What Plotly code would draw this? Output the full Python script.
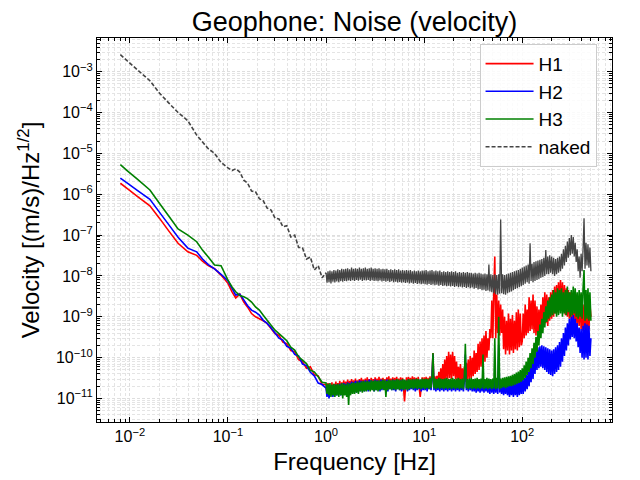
import plotly.graph_objects as go

# ---------------- data ----------------
freq_low = [0.008, 0.0095, 0.012, 0.016, 0.02, 0.025, 0.031, 0.039, 0.048, 0.055, 0.063, 0.073, 0.085]
freq_mid = [0.100, 0.110, 0.120, 0.132, 0.145, 0.158, 0.174, 0.191, 0.209, 0.229,
            0.251, 0.275, 0.302, 0.331, 0.363, 0.398, 0.437, 0.479, 0.525, 0.575,
            0.631, 0.692, 0.759, 0.832, 0.912]
freq_d0 = [1.000, 1.023, 1.047, 1.072, 1.096, 1.122, 1.148, 1.175, 1.202, 1.230,
           1.259, 1.288, 1.318, 1.349, 1.380, 1.413, 1.445, 1.479, 1.514, 1.549,
           1.585, 1.622, 1.660, 1.698, 1.738, 1.778, 1.820, 1.862, 1.905, 1.950,
           1.995, 2.042, 2.089, 2.138, 2.188, 2.239, 2.291, 2.344, 2.399, 2.455,
           2.512, 2.570, 2.630, 2.692, 2.754, 2.818, 2.884, 2.951, 3.020, 3.090,
           3.162, 3.236, 3.311, 3.388, 3.467, 3.548, 3.631, 3.715, 3.802, 3.890,
           3.981, 4.074, 4.169, 4.266, 4.365, 4.467, 4.571, 4.677, 4.786, 4.898,
           5.012, 5.129, 5.248, 5.370, 5.495, 5.623, 5.754, 5.888, 6.026, 6.166,
           6.310, 6.457, 6.607, 6.761, 6.918, 7.079, 7.244, 7.413, 7.586, 7.762,
           7.943, 8.128, 8.318, 8.511, 8.710, 8.913, 9.120, 9.333, 9.550, 9.772]
freq_d1 = [10.00, 10.23, 10.47, 10.72, 10.96, 11.22, 11.48, 11.75, 12.02, 12.30,
           12.59, 12.88, 13.18, 13.49, 13.80, 14.13, 14.45, 14.79, 15.14, 15.49,
           15.85, 16.22, 16.60, 16.98, 17.38, 17.78, 18.20, 18.62, 19.05, 19.50,
           19.95, 20.42, 20.89, 21.38, 21.88, 22.39, 22.91, 23.44, 23.99, 24.55,
           25.12, 25.70, 26.30, 26.92, 27.54, 28.18, 28.84, 29.51, 30.20, 30.90,
           31.62, 32.36, 33.11, 33.88, 34.67, 35.48, 36.31, 37.15, 38.02, 38.90,
           39.81, 40.74, 41.69, 42.66, 43.65, 44.67, 45.71, 46.77, 47.86, 48.98,
           50.12, 51.29, 52.48, 53.70, 54.95, 56.23, 57.54, 58.88, 60.26, 61.66,
           63.10, 64.57, 66.07, 67.61, 69.18, 70.79, 72.44, 74.13, 75.86, 77.62,
           79.43, 81.28, 83.18, 85.11, 87.10, 89.13, 91.20, 93.33, 95.50, 97.72]
freq_d2 = [100.0, 102.3, 104.7, 107.2, 109.6, 112.2, 114.8, 117.5, 120.2, 123.0,
           125.9, 128.8, 131.8, 134.9, 138.0, 141.3, 144.5, 147.9, 151.4, 154.9,
           158.5, 162.2, 166.0, 169.8, 173.8, 177.8, 182.0, 186.2, 190.5, 195.0,
           199.5, 204.2, 208.9, 213.8, 218.8, 223.9, 229.1, 234.4, 239.9, 245.5,
           251.2, 257.0, 263.0, 269.2, 275.4, 281.8, 288.4, 295.1, 302.0, 309.0,
           316.2, 323.6, 331.1, 338.8, 346.7, 354.8, 363.1, 371.5, 380.2, 389.0,
           398.1, 407.4, 416.9, 426.6, 436.5, 446.7, 457.1, 467.7, 478.6, 489.8,
           501.2]

# H1
h1_low = [1.86e-6, 1.36e-6, 8.8e-7, 5.2e-7, 2.6e-7, 1.25e-7, 6.3e-8, 3.9e-8, 3.2e-8, 2.3e-8, 1.8e-8, 1.5e-8, 1.05e-8]
h1_mid = [6.6e-9, 4.1e-9, 2.9e-9, 3.6e-9, 2.3e-9, 1.75e-9, 1.2e-9, 1.0e-9, 9.0e-10, 8.0e-10,
          6.9e-10, 5.2e-10, 3.9e-10, 3.5e-10, 2.4e-10, 2.2e-10, 1.5e-10, 1.4e-10, 9.0e-11, 8.0e-11,
          5.5e-11, 6.0e-11, 3.8e-11, 3.6e-11, 2.2e-11]
h1_d0 = [2.2e-11, 1.3e-11, 2.4e-11, 1.2e-11, 2.1e-11, 1.4e-11, 2.5e-11, 1.3e-11, 2.3e-11, 1.5e-11,
         2.6e-11, 1.4e-11, 2.4e-11, 1.5e-11, 2.7e-11, 1.3e-11, 2.5e-11, 1.6e-11, 2.8e-11, 1.5e-11,
         2.6e-11, 1.6e-11, 2.9e-11, 1.5e-11, 2.7e-11, 1.7e-11, 3.0e-11, 1.6e-11, 2.8e-11, 1.7e-11,
         3.1e-11, 1.6e-11, 2.8e-11, 1.8e-11, 3.0e-11, 1.7e-11, 3.2e-11, 1.8e-11, 2.9e-11, 1.7e-11,
         3.1e-11, 1.8e-11, 3.3e-11, 1.7e-11, 3.0e-11, 1.9e-11, 3.2e-11, 1.8e-11, 3.0e-11, 1.7e-11,
         3.3e-11, 1.9e-11, 3.1e-11, 1.8e-11, 3.4e-11, 1.7e-11, 3.1e-11, 1.9e-11, 3.2e-11, 1.8e-11,
         3.0e-11, 1.8e-11, 3.3e-11, 1.9e-11, 3.5e-11, 1.8e-11, 3.1e-11, 1.9e-11, 3.3e-11, 1.8e-11,
         3.2e-11, 1.9e-11, 3.4e-11, 1.8e-11, 3.1e-11, 1.9e-11, 3.3e-11, 1.7e-11, 3.2e-11, 1.8e-11,
         8.5e-12, 1.9e-11, 3.3e-11, 1.8e-11, 3.4e-11, 1.9e-11, 3.2e-11, 1.8e-11, 3.5e-11, 1.9e-11,
         3.3e-11, 1.8e-11, 3.2e-11, 1.9e-11, 3.4e-11, 1.8e-11, 1.1e-11, 1.9e-11, 3.3e-11, 1.8e-11]
h1_d1 = [3.3e-11, 1.9e-11, 3.4e-11, 1.8e-11, 3.2e-11, 1.9e-11, 3.5e-11, 1.8e-11, 3.4e-11, 1.3e-10,
         2.0e-11, 3.5e-11, 1.9e-11, 3.6e-11, 2.0e-11, 4.5e-11, 2.1e-11, 5.5e-11, 2.2e-11, 7.0e-11,
         2.4e-11, 9.0e-11, 2.6e-11, 1.1e-10, 3.0e-11, 1.4e-10, 3.2e-11, 1.2e-10, 3.0e-11, 1.4e-10,
         3.5e-11, 1.1e-10, 3.0e-11, 8.0e-11, 2.8e-11, 6.0e-11, 2.5e-11, 7.0e-11, 2.6e-11, 5.5e-11,
         2.4e-11, 6.0e-11, 2.6e-11, 7.5e-11, 2.8e-11, 9.0e-11, 3.0e-11, 1.1e-10, 3.2e-11, 1.0e-10,
         3.5e-11, 1.5e-10, 4.0e-11, 1.3e-10, 4.5e-11, 2.2e-10, 5.0e-11, 2.5e-10, 6.0e-11, 3.0e-10,
         7.0e-11, 3.5e-10, 8.0e-11, 4.5e-10, 1.0e-10, 3.0e-10, 1.5e-10, 5.0e-10, 3.0e-10, 2.5e-9,
         3.0e-10, 4.0e-9, 3.0e-8, 3.0e-10, 3.5e-9, 4.0e-10, 2.5e-9, 3.5e-10, 2.0e-9, 4.0e-10,
         1.5e-9, 1.6e-10, 1.0e-9, 1.2e-10, 8.0e-10, 1.5e-10, 1.2e-9, 1.2e-10, 9.0e-10, 1.5e-10,
         1.1e-9, 1.3e-10, 8.0e-10, 1.6e-10, 1.3e-9, 1.5e-10, 1.5e-9, 1.8e-10, 1.2e-9, 2.0e-10]
h1_d2 = [2.5e-10, 1.2e-9, 3.0e-10, 2.0e-9, 3.5e-10, 1.5e-9, 4.0e-10, 3.0e-9, 4.5e-10, 2.5e-9,
         5.0e-10, 3.5e-9, 4.0e-10, 2.5e-9, 3.5e-10, 1.8e-9, 3.0e-10, 1.5e-9, 4.0e-10, 2.0e-9,
         5.0e-10, 3.0e-9, 6.0e-10, 4.0e-9, 7.0e-10, 3.5e-9, 6.0e-10, 3.0e-9, 8.0e-10, 4.0e-9,
         9.0e-10, 4.5e-9, 1.0e-9, 5.5e-9, 1.2e-9, 6.0e-9, 1.3e-9, 7.0e-9, 1.5e-9, 8.0e-9,
         1.4e-9, 7.0e-9, 1.3e-9, 6.0e-9, 1.1e-9, 5.0e-9, 1.0e-9, 4.5e-9, 9.0e-10, 4.0e-9,
         8.0e-10, 3.5e-9, 7.0e-10, 3.0e-9, 6.0e-10, 3.5e-9, 5.5e-10, 3.0e-9, 6.0e-10, 3.5e-9,
         5.0e-10, 2.5e-9, 4.5e-10, 2.0e-9, 5.0e-10, 3.0e-9, 4.5e-10, 2.5e-9, 5.0e-10, 2.0e-9,
         1.0e-9]

# H2
h2_low = [2.47e-6, 1.84e-6, 1.22e-6, 7.5e-7, 3.65e-7, 1.78e-7, 8.9e-8, 4.8e-8, 3.9e-8, 2.6e-8, 1.9e-8, 1.5e-8, 1.1e-8]
h2_mid = [7.6e-9, 5.0e-9, 3.4e-9, 3.6e-9, 2.6e-9, 1.9e-9, 1.46e-9, 1.3e-9, 1.1e-9, 8.2e-10,
          6.9e-10, 5.4e-10, 4.0e-10, 3.0e-10, 2.7e-10, 1.9e-10, 1.7e-10, 1.2e-10, 1.1e-10, 7.0e-11,
          6.4e-11, 4.4e-11, 3.6e-11, 2.4e-11, 2.2e-11]
h2_d0 = [1.8e-11, 1.1e-11, 2.0e-11, 1.0e-11, 1.9e-11, 1.2e-11, 2.1e-11, 1.1e-11, 2.0e-11, 1.2e-11,
         2.2e-11, 1.2e-11, 2.1e-11, 1.3e-11, 2.3e-11, 1.2e-11, 2.2e-11, 1.3e-11, 2.4e-11, 1.3e-11,
         2.3e-11, 1.4e-11, 2.5e-11, 1.3e-11, 2.4e-11, 1.5e-11, 2.6e-11, 1.4e-11, 2.5e-11, 1.5e-11,
         2.7e-11, 1.4e-11, 2.6e-11, 1.6e-11, 2.8e-11, 1.5e-11, 2.7e-11, 1.6e-11, 2.6e-11, 1.5e-11,
         2.8e-11, 1.6e-11, 2.7e-11, 1.5e-11, 2.9e-11, 1.6e-11, 2.8e-11, 1.7e-11, 2.7e-11, 1.5e-11,
         2.9e-11, 1.6e-11, 2.8e-11, 1.7e-11, 2.7e-11, 1.5e-11, 2.9e-11, 1.6e-11, 2.8e-11, 1.7e-11,
         2.7e-11, 1.6e-11, 2.9e-11, 1.5e-11, 2.8e-11, 1.7e-11, 2.7e-11, 1.6e-11, 2.9e-11, 1.6e-11,
         2.8e-11, 1.5e-11, 2.9e-11, 1.7e-11, 2.7e-11, 1.6e-11, 2.8e-11, 1.5e-11, 2.9e-11, 1.6e-11,
         2.8e-11, 1.7e-11, 2.7e-11, 1.5e-11, 2.9e-11, 1.6e-11, 2.8e-11, 1.7e-11, 2.7e-11, 1.6e-11,
         2.9e-11, 1.5e-11, 2.8e-11, 1.6e-11, 2.7e-11, 1.7e-11, 2.9e-11, 1.5e-11, 2.8e-11, 1.6e-11]
h2_d1 = [2.8e-11, 1.6e-11, 2.9e-11, 1.5e-11, 2.7e-11, 1.7e-11, 2.8e-11, 1.6e-11, 2.9e-11, 1.2e-10,
         1.6e-11, 2.8e-11, 1.5e-11, 2.9e-11, 1.6e-11, 2.7e-11, 1.5e-11, 2.8e-11, 1.6e-11, 2.9e-11,
         1.5e-11, 2.8e-11, 1.6e-11, 2.7e-11, 1.5e-11, 2.9e-11, 1.6e-11, 2.8e-11, 1.5e-11, 2.7e-11,
         1.6e-11, 2.9e-11, 1.5e-11, 2.8e-11, 1.6e-11, 2.7e-11, 1.5e-11, 2.9e-11, 1.6e-11, 2.8e-11,
         1.5e-11, 2.7e-11, 1.2e-10, 1.6e-11, 2.8e-11, 1.5e-11, 2.9e-11, 1.6e-11, 2.7e-11, 1.5e-11,
         2.8e-11, 1.5e-11, 2.9e-11, 1.4e-11, 2.7e-11, 1.5e-11, 2.8e-11, 1.4e-11, 2.9e-11, 1.5e-11,
         2.7e-11, 1.4e-11, 2.8e-11, 1.5e-11, 2.7e-11, 1.4e-11, 2.9e-11, 1.3e-11, 2.8e-11, 1.4e-11,
         2.7e-11, 1.3e-11, 2.8e-11, 1.4e-11, 2.7e-11, 1.3e-11, 2.0e-10, 1.4e-11, 2.6e-11, 1.3e-11,
         2.7e-11, 1.2e-11, 2.6e-11, 1.3e-11, 2.7e-11, 1.2e-11, 2.6e-11, 1.1e-11, 2.7e-11, 1.2e-11,
         2.6e-11, 1.1e-11, 2.7e-11, 1.2e-11, 2.6e-11, 1.1e-11, 2.8e-11, 1.2e-11, 2.9e-11, 1.3e-11]
h2_d2 = [3.0e-11, 1.3e-11, 3.2e-11, 1.5e-11, 3.8e-11, 1.7e-11, 4.5e-11, 2.0e-11, 6.0e-11, 2.5e-11,
         8.0e-11, 3.0e-11, 1.1e-10, 4.0e-11, 1.5e-10, 5.0e-11, 1.8e-10, 5.5e-11, 1.9e-10, 6.0e-11,
         2.0e-10, 5.5e-11, 1.9e-10, 5.0e-11, 1.8e-10, 4.5e-11, 1.7e-10, 4.0e-11, 1.6e-10, 3.8e-11,
         1.5e-10, 3.5e-11, 1.6e-10, 4.0e-11, 1.8e-10, 4.5e-11, 2.0e-10, 5.0e-11, 2.4e-10, 6.0e-11,
         3.0e-10, 8.0e-11, 4.0e-10, 1.1e-10, 5.5e-10, 1.5e-10, 7.0e-10, 2.0e-10, 9.0e-10, 2.8e-10,
         1.0e-9, 3.2e-10, 1.1e-9, 3.0e-10, 9.0e-10, 2.5e-10, 7.0e-10, 1.8e-10, 5.5e-10, 1.3e-10,
         5.0e-10, 1.0e-10, 6.0e-10, 9.0e-11, 7.0e-10, 1.0e-10, 6.5e-10, 9.0e-11, 6.0e-10, 1.1e-10,
         3.0e-10]

# H3
h3_low = [5.3e-6, 3.7e-6, 2.3e-6, 1.27e-6, 6.0e-7, 2.9e-7, 1.41e-7, 1.0e-7, 6.9e-8, 4.3e-8, 2.9e-8, 1.86e-8, 1.78e-8]
h3_mid = [7.9e-9, 5.4e-9, 4.1e-9, 3.3e-9, 3.1e-9, 2.8e-9, 2.3e-9, 1.75e-9, 1.46e-9, 1.1e-9,
          8.2e-10, 6.2e-10, 4.7e-10, 3.9e-10, 3.2e-10, 2.6e-10, 1.8e-10, 1.53e-10, 1.05e-10, 8.7e-11,
          7.2e-11, 4.9e-11, 4.5e-11, 3.4e-11, 2.5e-11]
h3_d0 = [2.4e-11, 1.3e-11, 2.3e-11, 1.2e-11, 2.4e-11, 1.1e-11, 2.2e-11, 1.2e-11, 2.3e-11, 1.1e-11,
         2.2e-11, 1.2e-11, 2.3e-11, 1.1e-11, 2.2e-11, 1.2e-11, 2.4e-11, 1.0e-11, 2.3e-11, 1.2e-11,
         2.2e-11, 1.1e-11, 2.4e-11, 7.0e-12, 2.3e-11, 1.2e-11, 2.4e-11, 1.3e-11, 2.5e-11, 1.3e-11,
         2.4e-11, 1.4e-11, 2.6e-11, 1.3e-11, 2.5e-11, 1.5e-11, 2.6e-11, 1.4e-11, 2.7e-11, 1.5e-11,
         2.6e-11, 1.5e-11, 2.7e-11, 1.6e-11, 2.6e-11, 1.5e-11, 2.8e-11, 1.6e-11, 2.7e-11, 1.5e-11,
         2.8e-11, 1.6e-11, 2.7e-11, 1.5e-11, 2.8e-11, 1.6e-11, 2.7e-11, 1.7e-11, 2.9e-11, 1.6e-11,
         2.8e-11, 1.1e-11, 2.7e-11, 1.6e-11, 2.9e-11, 1.7e-11, 2.8e-11, 1.6e-11, 2.9e-11, 1.7e-11,
         2.8e-11, 1.6e-11, 3.0e-11, 1.7e-11, 2.9e-11, 1.6e-11, 2.8e-11, 1.7e-11, 3.0e-11, 1.6e-11,
         2.9e-11, 1.7e-11, 2.8e-11, 1.6e-11, 3.0e-11, 1.7e-11, 2.9e-11, 1.8e-11, 3.0e-11, 1.7e-11,
         2.9e-11, 1.8e-11, 3.1e-11, 1.7e-11, 3.0e-11, 1.8e-11, 2.9e-11, 1.7e-11, 3.1e-11, 1.8e-11]
h3_d1 = [3.0e-11, 1.7e-11, 3.1e-11, 1.8e-11, 3.0e-11, 1.7e-11, 3.2e-11, 1.8e-11, 3.0e-11, 1.3e-10,
         1.8e-11, 3.1e-11, 1.7e-11, 3.0e-11, 1.8e-11, 3.2e-11, 1.7e-11, 3.1e-11, 1.8e-11, 3.0e-11,
         1.7e-11, 3.1e-11, 1.8e-11, 3.2e-11, 1.7e-11, 3.0e-11, 1.8e-11, 3.1e-11, 1.7e-11, 3.2e-11,
         1.8e-11, 3.0e-11, 1.7e-11, 3.1e-11, 1.8e-11, 3.2e-11, 1.7e-11, 3.0e-11, 1.8e-11, 3.1e-11,
         1.7e-11, 3.2e-11, 2.2e-10, 1.8e-11, 3.0e-11, 1.7e-11, 3.1e-11, 1.8e-11, 3.2e-11, 1.7e-11,
         3.0e-11, 1.8e-11, 3.1e-11, 1.7e-11, 3.2e-11, 1.8e-11, 3.0e-11, 1.7e-11, 3.1e-11, 1.8e-11,
         1.2e-10, 1.7e-11, 3.0e-11, 1.8e-11, 3.2e-11, 1.7e-11, 3.1e-11, 1.8e-11, 3.0e-11, 1.7e-11,
         3.1e-11, 1.8e-11, 3.0e-10, 1.7e-11, 3.2e-11, 1.8e-11, 1.0e-9, 1.7e-11, 3.1e-11, 1.8e-11,
         3.2e-11, 1.9e-11, 3.3e-11, 1.8e-11, 3.4e-11, 1.9e-11, 3.5e-11, 2.0e-11, 3.6e-11, 2.0e-11,
         3.8e-11, 2.1e-11, 4.0e-11, 2.2e-11, 4.3e-11, 2.3e-11, 4.6e-11, 2.4e-11, 5.0e-11, 2.6e-11]
h3_d2 = [5.5e-11, 2.8e-11, 6.5e-11, 3.2e-11, 8.0e-11, 3.8e-11, 1.0e-10, 4.5e-11, 1.3e-10, 5.5e-11,
         1.7e-10, 7.0e-11, 2.3e-10, 1.0e-10, 3.2e-10, 1.4e-10, 4.5e-10, 2.0e-10, 6.5e-10, 3.0e-10,
         9.0e-10, 4.0e-10, 1.3e-9, 5.5e-10, 1.8e-9, 7.5e-10, 2.5e-9, 9.0e-10, 3.0e-9, 1.0e-9,
         3.5e-9, 1.1e-9, 4.5e-9, 1.2e-9, 4.0e-9, 1.0e-9, 5.0e-9, 1.1e-9, 4.5e-9, 1.2e-9,
         5.0e-9, 1.0e-9, 4.0e-9, 1.2e-9, 4.5e-9, 1.1e-9, 5.5e-9, 1.3e-9, 4.0e-9, 1.0e-9,
         4.5e-9, 1.1e-9, 5.5e-9, 1.2e-9, 5.0e-9, 1.0e-9, 4.0e-9, 9.0e-10, 4.5e-9, 1.0e-9,
         4.0e-9, 9.0e-10, 5.0e-9, 1.4e-8, 8.0e-10, 4.5e-9, 9.0e-10, 5.0e-9, 8.0e-10, 4.0e-9,
         8.0e-10]

# naked
naked_low = [2.6e-3, 1.8e-3, 1.1e-3, 6.0e-4, 3.0e-4, 1.7e-4, 1.0e-4, 6.3e-5, 2.8e-5, 1.9e-5, 1.3e-5, 1.0e-5, 6.0e-6]
naked_mid = [4.4e-6, 3.8e-6, 4.2e-6, 3.5e-6, 2.2e-6, 1.9e-6, 1.2e-6, 1.15e-6, 7.8e-7, 6.9e-7,
             4.6e-7, 4.1e-7, 2.6e-7, 2.5e-7, 1.6e-7, 1.7e-7, 9.0e-8, 1.0e-7, 5.0e-8, 4.9e-8,
             2.6e-8, 2.9e-8, 1.4e-8, 1.8e-8, 9.0e-9]
naked_d0 = [1.2e-8, 6.8e-9, 1.3e-8, 7.0e-9, 1.35e-8, 6.6e-9, 1.3e-8, 7.2e-9, 1.4e-8, 6.9e-9,
            1.35e-8, 7.3e-9, 1.45e-8, 7.0e-9, 1.4e-8, 7.5e-9, 1.5e-8, 7.2e-9, 1.45e-8, 7.6e-9,
            1.5e-8, 7.4e-9, 1.55e-8, 7.8e-9, 1.45e-8, 7.5e-9, 1.6e-8, 7.9e-9, 1.5e-8, 7.6e-9,
            1.55e-8, 8.0e-9, 1.5e-8, 7.7e-9, 1.6e-8, 8.1e-9, 1.5e-8, 7.6e-9, 1.55e-8, 7.9e-9,
            1.6e-8, 7.8e-9, 1.5e-8, 8.0e-9, 1.55e-8, 7.6e-9, 1.6e-8, 7.9e-9, 1.5e-8, 7.5e-9,
            1.55e-8, 7.7e-9, 1.5e-8, 7.4e-9, 1.55e-8, 7.8e-9, 1.45e-8, 7.3e-9, 1.5e-8, 7.6e-9,
            1.45e-8, 7.2e-9, 1.5e-8, 7.5e-9, 1.4e-8, 7.1e-9, 1.45e-8, 7.4e-9, 1.4e-8, 7.0e-9,
            1.45e-8, 7.2e-9, 1.4e-8, 6.9e-9, 1.45e-8, 7.1e-9, 1.35e-8, 6.8e-9, 1.4e-8, 7.0e-9,
            1.35e-8, 6.7e-9, 1.4e-8, 6.9e-9, 1.35e-8, 6.6e-9, 1.4e-8, 6.8e-9, 1.3e-8, 6.5e-9,
            1.35e-8, 6.7e-9, 1.3e-8, 6.4e-9, 1.35e-8, 6.6e-9, 1.3e-8, 6.3e-9, 1.35e-8, 6.5e-9]
naked_d1 = [1.35e-8, 6.3e-9, 1.4e-8, 6.1e-9, 1.3e-8, 6.4e-9, 1.35e-8, 6.0e-9, 1.4e-8, 6.2e-9,
            1.3e-8, 5.9e-9, 1.35e-8, 6.1e-9, 1.3e-8, 5.8e-9, 1.35e-8, 6.0e-9, 1.25e-8, 5.7e-9,
            1.3e-8, 5.9e-9, 1.25e-8, 5.6e-9, 1.3e-8, 5.8e-9, 1.25e-8, 5.5e-9, 1.3e-8, 5.7e-9,
            1.25e-8, 5.4e-9, 1.3e-8, 5.6e-9, 1.2e-8, 5.3e-9, 1.25e-8, 5.5e-9, 1.2e-8, 5.2e-9,
            1.25e-8, 5.4e-9, 1.2e-8, 5.1e-9, 1.25e-8, 5.3e-9, 1.2e-8, 5.0e-9, 1.2e-8, 5.2e-9,
            1.15e-8, 4.9e-9, 1.2e-8, 5.1e-9, 1.15e-8, 4.7e-9, 1.2e-8, 4.8e-9, 1.15e-8, 4.5e-9,
            1.1e-8, 4.6e-9, 1.15e-8, 4.3e-9, 1.1e-8, 4.4e-9, 1.9e-8, 4.2e-9, 1.1e-8, 4.0e-9,
            1.05e-8, 3.8e-9, 1.1e-8, 3.6e-9, 1.05e-8, 3.5e-9, 1.1e-8, 3.7e-9, 2.4e-7, 3.8e-9,
            1.1e-8, 3.6e-9, 1.05e-8, 3.5e-9, 1.1e-8, 3.8e-9, 1.15e-8, 4.0e-9, 1.2e-8, 4.2e-9,
            1.25e-8, 4.5e-9, 1.3e-8, 4.8e-9, 1.35e-8, 5.0e-9, 1.4e-8, 5.3e-9, 1.5e-8, 5.6e-9]
naked_d2 = [1.6e-8, 6.0e-9, 1.7e-8, 6.5e-9, 1.8e-8, 7.0e-9, 1.9e-8, 6.5e-9, 6.3e-8, 7.5e-9,
            2.0e-8, 7.0e-9, 2.2e-8, 7.5e-9, 2.3e-8, 8.0e-9, 2.4e-8, 8.5e-9, 2.5e-8, 9.0e-9,
            2.6e-8, 9.5e-9, 2.8e-8, 1.0e-8, 4.3e-8, 1.1e-8, 3.0e-8, 1.1e-8, 3.2e-8, 1.2e-8,
            3.0e-8, 1.1e-8, 2.8e-8, 1.0e-8, 2.6e-8, 1.1e-8, 2.8e-8, 1.2e-8, 3.0e-8, 1.3e-8,
            3.5e-8, 1.5e-8, 4.5e-8, 1.8e-8, 5.5e-8, 2.2e-8, 7.0e-8, 2.8e-8, 8.5e-8, 3.2e-8,
            1.0e-7, 3.5e-8, 9.0e-8, 3.0e-8, 6.5e-8, 2.2e-8, 4.5e-8, 1.3e-8, 3.0e-8, 9.0e-9,
            3.5e-8, 1.3e-8, 4.5e-8, 2.6e-7, 1.5e-8, 6.5e-8, 1.8e-8, 6.0e-8, 1.6e-8, 5.0e-8,
            1.3e-8]

freq = freq_low + freq_mid + freq_d0 + freq_d1 + freq_d2
h1 = h1_low + h1_mid + h1_d0 + h1_d1 + h1_d2
h2 = h2_low + h2_mid + h2_d0 + h2_d1 + h2_d2
h3 = h3_low + h3_mid + h3_d0 + h3_d1 + h3_d2
naked = naked_low + naked_mid + naked_d0 + naked_d1 + naked_d2
for s in (h1, h2, h3, naked):
    assert len(s) == len(freq), (len(s), len(freq))

series_names = ["H1", "H2", "H3", "naked"]

x_tick_vals = [0.01, 0.1, 1, 10, 100]
x_tick_text = ["10<sup>−2</sup>", "10<sup>−1</sup>", "10<sup>0</sup>", "10<sup>1</sup>", "10<sup>2</sup>"]
y_tick_vals = [1e-11, 1e-10, 1e-9, 1e-8, 1e-7, 1e-6, 1e-5, 1e-4, 1e-3]
y_tick_text = ["10<sup>−11</sup>", "10<sup>−10</sup>", "10<sup>−9</sup>", "10<sup>−8</sup>",
               "10<sup>−7</sup>", "10<sup>−6</sup>", "10<sup>−5</sup>", "10<sup>−4</sup>", "10<sup>−3</sup>"]

# ---------------- figure ----------------
FONT = "Liberation Sans, Arial, Helvetica, sans-serif"
colors = ["#ff0000", "#0000ff", "#008000", "#444444"]
LW = 1.6

fig = go.Figure()
for name, vals, color in zip(series_names[:3], [h1, h2, h3], colors[:3]):
    fig.add_trace(go.Scatter(
        x=freq, y=vals, mode="lines", name=name,
        line=dict(color=color, width=LW, simplify=False),
    ))

# "naked": dashed line; in the dense noisy part (>= 1 Hz) the dashes merge into a solid band
n_split = len(freq_low) + len(freq_mid)
fig.add_trace(go.Scatter(
    x=freq[:n_split + 1], y=naked[:n_split + 1], mode="lines", name=series_names[3],
    line=dict(color=colors[3], width=LW, dash="4px,2px", simplify=False),
))
fig.add_trace(go.Scatter(
    x=freq[n_split:], y=naked[n_split:], mode="lines", name=series_names[3],
    showlegend=False, line=dict(color=colors[3], width=1.3, simplify=False),
))

axis_common = dict(
    type="log",
    showline=True, linecolor="black", linewidth=1.2, mirror="allticks",
    ticks="inside", ticklen=5, tickwidth=1, tickcolor="black",
    showgrid=True, gridcolor="#dedede", griddash="3px,2px", gridwidth=0.8,
    zeroline=False,
    tickfont=dict(family=FONT, size=16, color="black"),
    minor=dict(ticks="inside", ticklen=2.5, tickwidth=0.8, tickcolor="black",
               dtick="D1", showgrid=True, gridcolor="#e4e4e4", griddash="3px,2px", gridwidth=0.7),
)

fig.update_xaxes(**axis_common, range=[-2.335, 2.915],
                 tickmode="array", tickvals=x_tick_vals, ticktext=x_tick_text,
                 title=dict(text="Frequency [Hz]", font=dict(family=FONT, size=24, color="black"), standoff=8))
fig.update_yaxes(**axis_common, range=[-11.574, -2.176],
                 tickmode="array", tickvals=y_tick_vals, ticktext=y_tick_text,
                 title=dict(text="Velocity [(m/s)/Hz<sup>1/2</sup>]", font=dict(family=FONT, size=24, color="black"), standoff=9))

fig.update_layout(
    width=640, height=480,
    margin=dict(l=97, r=28, t=38, b=58, autoexpand=False),
    paper_bgcolor="white", plot_bgcolor="white",
    title=dict(text="Geophone: Noise (velocity)", x=0.5, xref="paper", xanchor="center",
               y=1 - 22 / 480, yref="container", yanchor="middle",
               font=dict(family=FONT, size=27, color="black")),
    legend=dict(x=0.97, y=0.985, xanchor="right", yanchor="top", tracegroupgap=0,
                bgcolor="rgba(255,255,255,0.85)", bordercolor="#cccccc", borderwidth=1,
                font=dict(family=FONT, size=19, color="black"), itemwidth=48),
    showlegend=True,
)

fig.write_html("out.html", config={"displayModeBar": False},
               post_script="document.body.style.margin='0px';")
